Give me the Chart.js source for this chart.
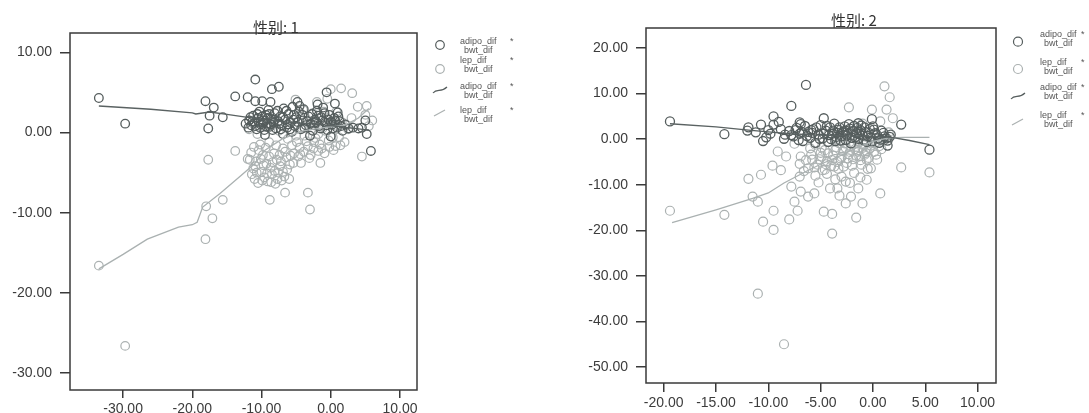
<!DOCTYPE html>
<html><head><meta charset="utf-8">
<script src="https://cdn.jsdelivr.net/npm/chart.js@4.4.0/dist/chart.umd.min.js"></script>
<style>
body{margin:0;background:#fff;width:1089px;height:413px;overflow:hidden;position:relative}
canvas{position:absolute;top:0}
#c1{left:0;width:545px;height:413px}
#c2{left:545px;width:544px;height:413px}
</style></head>
<body>
<canvas id="c1" width="545" height="413"></canvas>
<canvas id="c2" width="544" height="413"></canvas>
<script>
// ---------- DATA ----------
const TITLES = ['性别: 1', '性别: 2'];
const LEGEND_Y_VARS = ['adipo_dif', 'lep_dif'];
const LEGEND_X_VAR = 'bwt_dif';

const L_X_TICKS = [-30, -20, -10, 0, 10];
const L_Y_TICKS = [-30, -20, -10, 0, 10];
const R_X_TICKS = [-20, -15, -10, -5, 0, 5, 10];
const R_Y_TICKS = [-50, -40, -30, -20, -10, 0, 10, 20];

// Panel 1 (性别 1): adipo_dif vs bwt_dif
const L_ADIPO_X = [-33.5,-29.7,-18.1,-16.9,-17.5,-17.7,-15.6,-13.8,-12.0,-10.9,-10.9,-9.9,-8.7,-8.5,-7.5,-4.8,-0.6,0.6,5.2,5.8,4.5,3.2,4.0,5.0,
 -11.8,-11.5,-11.2,-11.0,-10.7,-10.5,-10.3,-10.1,-9.8,-9.6,-9.4,-9.2,-9.0,-8.8,-8.6,-8.3,-8.1,-7.9,-7.6,-7.3,-7.1,-6.8,-6.6,-6.3,-6.1,-5.8,-5.5,-5.2,-5.0,-4.6,-4.3,-4.0,-3.6,-3.2,-2.9,-2.6,-2.3,-2.0,-1.7,-1.4,-1.1,-0.8,-0.5,-0.2,0.2,0.5,0.9,1.3,1.7,2.1,2.6,-9.5,-6.9,-3.0,0.0,1.0,-1.9,-12.3,-5.6,
 -11.9,-11.6,-11.3,-10.9,-10.6,-10.4,-10.2,-9.9,-9.7,-9.3,-9.1,-8.9,-8.7,-8.4,-8.2,-7.7,-7.4,-7.2,-6.9,-6.4,-6.2,-5.9,-5.3,-4.8,-4.5,-4.1,-3.8,-3.4,-2.7,-2.4,-2.1,-1.8,-1.5,-1.2,-0.9,-0.6,-0.3,0.0,0.3,0.7,1.1,1.5,-3.9,-5.4];
const L_ADIPO_Y = [4.3,1.1,3.9,3.1,2.1,0.5,1.9,4.5,4.4,6.6,3.9,3.9,3.8,5.4,5.7,3.8,5.0,3.6,-0.2,-2.3,0.6,0.6,0.5,1.5,
 1.5,0.9,2.1,1.2,0.4,1.8,2.6,1.0,1.5,0.3,2.2,1.1,2.8,0.7,1.7,1.2,2.4,0.5,1.4,2.0,0.9,3.0,1.6,0.6,2.3,1.2,3.2,0.8,1.9,2.6,0.4,1.5,0.9,2.0,1.1,0.2,1.6,2.7,0.8,1.9,3.1,1.2,0.3,2.2,1.0,1.8,0.6,1.4,0.2,1.0,0.5,-0.3,-0.2,-0.4,-0.5,2.5,3.5,1.1,0.1,
 0.6,1.9,1.4,0.8,2.3,1.3,0.6,2.0,1.2,0.7,1.8,2.3,1.0,0.3,1.6,2.7,1.1,0.4,1.9,2.7,1.0,0.4,2.2,1.3,3.3,2.2,0.6,1.4,2.3,0.9,1.3,2.1,0.5,1.5,2.4,0.9,1.6,1.3,0.5,1.4,2.0,0.8,2.9,1.6];
// Panel 1: lep_dif vs bwt_dif
const L_LEP_X = [-33.5,-29.7,-18.1,-17.7,-18.0,-17.1,-15.6,-13.8,-12.0,-8.8,-6.6,-3.3,-3.0,-4.3,-1.5,-1.8,0.7,4.5,3.1,1.5,0.0,3.9,5.2,6.0,-5.1,5.0,5.5,
 -11.5,-11.2,-11.0,-10.8,-10.5,-10.2,-10.0,-9.8,-9.6,-9.3,-9.1,-8.9,-8.7,-8.5,-8.2,-8.0,-7.8,-7.6,-7.3,-7.1,-6.9,-6.7,-6.4,-6.2,-5.9,
 -5.6,-5.3,-5.0,-4.7,-4.5,-4.2,-3.9,-3.5,-3.1,-2.8,-2.5,-2.2,-1.9,-1.6,-1.2,-0.9,-0.6,-0.3,0.1,0.4,0.8,1.2,1.6,2.0,2.5,3.0,-9.0,-7.5,-11.8,-4.0,-2.0,-1.0,-0.5,-6.0,-10.6,
 -11.7,-11.4,-11.1,-10.9,-10.7,-10.4,-10.1,-9.9,-9.7,-9.4,-9.2,-8.9,-8.6,-8.4,-8.1,-7.9,-7.7,-7.4,-7.2,-6.9,-6.6,-6.3,-5.8,-5.4,-4.9,-4.4,-3.8,-3.3,-2.9,-2.4,-1.8,-1.3,-0.8,-0.2,0.3,0.9,1.4,2.2,-3.6,-2.6];
const L_LEP_Y = [-16.6,-26.6,-13.3,-3.4,-9.2,-10.7,-8.4,-2.3,-3.3,-8.4,-7.5,-7.5,-9.6,-3.8,-3.8,-2.3,-1.7,-3.0,4.9,5.5,5.4,3.2,3.3,1.5,4.1,2.2,0.8,
 -2.5,-4.5,-5.8,-3.6,-6.3,-1.5,-4.9,-2.8,-5.6,-3.9,-6.1,-1.2,-4.4,-5.2,-2.6,-6.4,-3.4,-5.0,-4.2,-6.0,-2.0,-5.5,-3.1,-0.8,-4.0,
 -1.6,-2.6,-0.4,-3.0,-1.9,0.6,-2.4,-1.1,-3.2,0.3,-2.0,-0.7,1.2,-1.5,0.5,-2.6,1.8,-1.0,0.9,-2.2,2.6,-0.6,1.3,-1.2,0.4,1.8,0.8,0.2,0.4,2.8,3.8,2.6,4.2,-5.8,-0.2,
 -3.4,-5.2,-1.8,-4.2,-5.0,-2.2,-3.3,-6.0,-4.1,-1.9,-5.1,-3.0,-6.2,-3.7,-4.8,-1.6,-5.8,-2.8,-3.6,-4.9,-2.4,-4.6,-2.9,-3.8,-1.2,-2.7,-0.4,-1.7,-2.8,-1.2,-0.2,-2.0,0.2,-1.8,-0.6,0.8,-1.6,0.9,1.4,2.4];
// Panel 1 fit lines
const L_ADIPO_FIT_X = [-33.5,-26,-20,-19.5,-17.5,-15,-12.5,-10,-7,-4,-1,2,4,5.5];
const L_ADIPO_FIT_Y = [3.3,2.9,2.45,2.3,2.55,2.25,1.95,1.6,1.35,1.15,0.95,0.65,0.45,0.3];
const L_LEP_FIT_X = [-33.5,-30,-26.5,-22,-20,-19.3,-18.5,-16,-13,-11,-9.5,-7,-4,-1,2,4,5.5];
const L_LEP_FIT_Y = [-17.0,-15.2,-13.3,-11.8,-11.5,-11.2,-9.3,-7.6,-5.4,-3.9,-2.2,-0.8,0.2,0.6,0.9,1.8,3.0];

// Panel 2 (性别 2): adipo_dif vs bwt_dif
const R_ADIPO_X = [-19.4,-14.2,-11.9,-10.7,-10.5,-11.2,-9.5,-9.5,-8.5,-7.8,-6.4,-7.0,-4.7,-0.1,2.7,1.4,5.4,-9.0,-10.0,
 -8.0,-7.6,-7.3,-7.0,-6.7,-6.5,-6.2,-6.0,-5.7,-5.5,-5.2,-5.0,-4.8,-4.5,-4.3,-4.1,-3.9,-3.7,-3.5,-3.3,-3.1,-2.9,-2.7,-2.5,-2.3,-2.1,-1.9,-1.7,-1.5,-1.3,-1.1,-0.9,-0.7,-0.5,-0.3,-0.1,0.2,0.5,0.8,1.1,1.4,1.7,-8.4,-6.9,-5.9,-4.0,-2.6,-1.4,0.0,0.6,
 -7.8,-7.4,-7.1,-6.8,-6.3,-5.8,-5.4,-5.1,-4.7,-4.4,-4.2,-3.8,-3.6,-3.4,-3.2,-3.0,-2.8,-2.6,-2.4,-2.2,-2.0,-1.8,-1.6,-1.4,-1.2,-1.0,-0.8,-0.6,-0.4,-0.2,0.1,0.4,0.7,1.0,1.3,1.6,-8.8,-9.8,-10.2,-12.0];
const R_ADIPO_Y = [3.9,1.1,2.6,3.2,-0.4,1.5,5.0,3.2,0.1,7.3,11.9,3.7,4.6,4.4,3.2,-1.4,-2.3,3.8,2.0,
 1.8,0.6,2.5,1.2,-0.4,2.9,1.6,0.3,2.2,-0.8,1.0,3.1,0.2,1.9,-0.6,2.6,1.2,3.4,0.5,2.1,-0.3,1.5,2.8,0.8,3.3,-0.9,1.8,0.4,2.5,1.1,3.0,-0.2,1.6,0.7,2.2,-0.5,1.3,0.2,1.9,0.6,-0.3,1.0,1.0,3.3,2.0,0.0,1.9,3.5,2.8,-0.8,
 0.9,2.0,-0.2,1.6,0.7,1.4,2.6,0.1,1.2,2.9,0.9,1.9,-0.4,1.4,2.6,0.6,1.7,-0.2,1.2,2.3,0.3,2.9,1.3,0.1,2.0,0.8,2.6,-0.6,1.4,0.4,2.1,0.9,-0.1,1.4,0.2,0.5,2.2,1.2,0.4,1.9];
// Panel 2: lep_dif vs bwt_dif
const R_LEP_X = [-19.4,-14.2,-11.9,-10.7,-11.5,-11.0,-10.5,-11.0,-8.5,-9.5,-9.5,-9.6,-9.1,-8.0,-7.2,-7.5,-6.9,-7.0,-5.6,-4.7,-3.9,-3.9,-4.1,-3.4,-2.6,-2.1,-1.6,-1.0,-0.6,0.7,2.7,5.4,-2.3,-0.1,1.1,1.6,1.3,0.7,-6.9,-6.2,-4.9,-3.7,-1.4,-0.6,0.4,-1.4,-2.6,-4.6,
 -6.0,-5.8,-5.5,-5.3,-5.0,-4.8,-4.6,-4.4,-4.2,-4.0,-3.8,-3.5,-3.3,-3.1,-2.9,-2.7,-2.5,-2.3,-2.1,-1.9,-1.7,-1.5,-1.3,-1.1,-0.9,-0.7,-0.5,-0.3,-0.1,0.3,0.6,1.0,-7.5,-8.3,-6.6,-5.2,-3.0,-1.8,-4.3,-2.4,1.5,1.9,-1.0,
 -5.9,-5.6,-5.1,-4.9,-4.5,-4.3,-3.9,-3.6,-3.4,-3.2,-3.0,-2.8,-2.6,-2.4,-2.2,-2.0,-1.8,-1.6,-1.4,-1.2,-1.0,-0.8,-0.6,-0.4,-0.2,0.1,0.4,0.8,-6.4,-7.0,-5.5,-4.4,-3.6,-2.2,-1.2,-0.2,-8.8,-7.8,-6.2,-3.2];
const R_LEP_Y = [-15.7,-16.6,-8.7,-7.8,-12.6,-13.7,-18.1,-33.9,-45.0,-15.7,-19.9,-5.8,-2.7,-17.6,-15.7,-13.7,-11.5,-8.2,-11.9,-15.9,-16.4,-20.7,-10.8,-10.8,-14.1,-12.6,-17.2,-14.1,-8.9,-11.9,-6.2,-7.3,7.0,6.5,11.6,9.2,6.5,3.9,-3.8,-6.4,-3.8,-6.0,-2.7,-4.5,-4.5,-10.8,-9.3,-6.7,
 -2.0,-4.5,-1.2,-5.6,-3.0,-6.8,-2.4,-4.8,-0.6,-5.9,-3.6,-1.8,-6.5,-4.2,-2.6,-0.9,-5.2,-3.3,-1.6,-4.4,-2.2,-0.4,-3.8,-5.6,-1.3,-3.0,-6.5,-2.0,-0.8,-3.4,-1.5,-0.3,-1.0,-3.8,-7.0,-9.5,-8.2,-7.4,1.0,2.0,1.5,4.6,3.4,
 -3.4,-6.2,-4.4,-1.8,-5.5,-3.1,-4.6,-2.4,-5.0,-0.9,-3.9,-6.0,-1.9,-4.2,-2.8,-5.8,-1.0,-3.6,-2.4,-4.6,-1.9,-3.4,-2.6,-4.1,-1.4,-2.8,-0.6,-2.2,-4.6,-5.4,-8.0,-7.6,-8.8,-9.6,-8.4,-6.4,-6.8,-10.4,-12.6,-12.4];
// Panel 2 fit lines
const R_ADIPO_FIT_X = [-19.4,-15,-11.9,-10,-8,-5,-2,0,1.8,3.5,5.4];
const R_ADIPO_FIT_Y = [3.4,2.7,2.0,1.6,1.2,0.9,0.7,0.6,0.4,-0.3,-1.2];
const R_LEP_FIT_X = [-19.2,-15,-11.5,-10,-8.5,-6.5,-5,-3,-1.5,0,1.5,3,5.4];
const R_LEP_FIT_Y = [-18.3,-15.5,-13.0,-11.8,-9.6,-7.2,-5.5,-3.5,-1.8,-0.5,0.3,0.4,0.4];

// ---------- STYLE ----------
const DARK = '#555d5d', LIGHT = '#abb1b1', LINE_DARK = '#5a6262', LINE_LIGHT = '#aab1b1';
const AX = '#3a3a3a', TXT = '#3c3c3c';
const FONT = '"Liberation Sans", Arial, sans-serif';

const pts = (xs, ys) => xs.map((x, i) => ({x, y: ys[i]}));

function frame(o) {
  return {
    id: 'frame',
    afterDraw(chart) {
      const c = chart.ctx, a = chart.chartArea;
      c.save();
      c.strokeStyle = AX; c.lineWidth = 1.5;
      c.strokeRect(a.left, a.top, a.right - a.left, a.bottom - a.top);
      // title
      c.fillStyle = '#333';
      c.font = '15px "Noto Sans CJK SC", sans-serif';
      c.textAlign = 'center'; c.textBaseline = 'middle';
      c.fillText(o.title, o.titleX, o.titleY);
      // legend
      c.font = '9px ' + FONT;
      c.textAlign = 'left';
      const labels = [LEGEND_Y_VARS[0], LEGEND_Y_VARS[1], LEGEND_Y_VARS[0], LEGEND_Y_VARS[1]];
      for (let i = 0; i < 4; i++) {
        const sx = o.legX, sy = o.symY[i];
        const col = (i % 2 === 0) ? DARK : LIGHT;
        c.strokeStyle = col; c.lineWidth = 1.2;
        c.beginPath();
        if (i < 2) {
          c.arc(sx, sy, o.r, 0, Math.PI * 2);
        } else if (i === 2) {
          c.moveTo(sx - 7, sy + 3);
          c.bezierCurveTo(sx - 3, sy - 2, sx + 1, sy + 3, sx + 7, sy - 3);
        } else {
          c.moveTo(sx - 6, sy + 3);
          c.lineTo(sx + 5, sy - 3);
        }
        c.stroke();
        c.fillStyle = '#555';
        const ty = o.textY[i];
        c.fillText(labels[i], o.legTX, ty - 4.5);
        c.fillText('*', o.starX, ty - 4.5);
        c.fillText(LEGEND_X_VAR, o.legTX + 4, ty + 4.5);
      }
      c.restore();
    }
  };
}

function axis(min, max, tickArr, tickLen, fitKey, fitVal, pad) {
  return {
    type: 'linear', min, max,
    afterBuildTicks: s => { s.ticks = tickArr.map(v => ({value: v})); },
    afterFit: s => { s[fitKey] = fitVal; },
    grid: {drawOnChartArea: false, drawTicks: true, tickLength: tickLen, color: AX, lineWidth: 1.5},
    border: {display: false},
    ticks: {autoSkip: false, maxRotation: 0, padding: pad, color: TXT,
            font: {family: FONT, size: 14}, callback: v => Number(v).toFixed(2)}
  };
}

function panel(id, o) {
  new Chart(document.getElementById(id), {
    type: 'scatter',
    data: {datasets: [
      {data: pts(o.aFX, o.aFY), showLine: true, borderColor: LINE_DARK, borderWidth: 1.4, pointRadius: 0, pointHoverRadius: 0},
      {data: pts(o.lFX, o.lFY), showLine: true, borderColor: LINE_LIGHT, borderWidth: 1.3, pointRadius: 0, pointHoverRadius: 0},
      {data: pts(o.aX, o.aY), pointRadius: o.r, borderColor: DARK, backgroundColor: 'rgba(0,0,0,0)', borderWidth: 1.3},
      {data: pts(o.lX, o.lY), pointRadius: o.r, borderColor: LIGHT, backgroundColor: 'rgba(0,0,0,0)', borderWidth: 1.2}
    ]},
    options: {
      responsive: false, animation: false, devicePixelRatio: 1,
      layout: {padding: {left: 0, top: o.top, right: o.right, bottom: 0}},
      plugins: {legend: {display: false}, tooltip: {enabled: false}, title: {display: false}},
      scales: {
        x: axis(o.xmin, o.xmax, o.xt, o.xtl, 'height', o.xh, 3),
        y: axis(o.ymin, o.ymax, o.yt, 10, 'width', o.yw, 8)
      }
    },
    plugins: [frame(o)]
  });
}

panel('c1', {
  title: TITLES[0], titleX: 276, titleY: 27,
  aX: L_ADIPO_X, aY: L_ADIPO_Y, lX: L_LEP_X, lY: L_LEP_Y,
  aFX: L_ADIPO_FIT_X, aFY: L_ADIPO_FIT_Y, lFX: L_LEP_FIT_X, lFY: L_LEP_FIT_Y,
  xmin: -37.67, xmax: 12.46, ymin: -32.1, ymax: 12.4,
  xt: L_X_TICKS, yt: L_Y_TICKS, xtl: 8,
  top: 33, right: 128, xh: 23, yw: 70, r: 4.3,
  legX: 440, legTX: 460, starX: 510,
  symY: [45, 69, 90, 113], textY: [46, 65, 91, 115]
});
panel('c2', {
  title: TITLES[1], titleX: 309, titleY: 20,
  aX: R_ADIPO_X, aY: R_ADIPO_Y, lX: R_LEP_X, lY: R_LEP_Y,
  aFX: R_ADIPO_FIT_X, aFY: R_ADIPO_FIT_Y, lFX: R_LEP_FIT_X, lFY: R_LEP_FIT_Y,
  xmin: -21.69, xmax: 11.76, ymin: -53.5, ymax: 24.4,
  xt: R_X_TICKS, yt: R_Y_TICKS, xtl: 9,
  top: 28, right: 93, xh: 30, yw: 101, r: 4.5,
  legX: 473, legTX: 495, starX: 536,
  symY: [41.7, 69, 96, 122], textY: [39.5, 67, 92.5, 120]
});
</script>
</body></html>
